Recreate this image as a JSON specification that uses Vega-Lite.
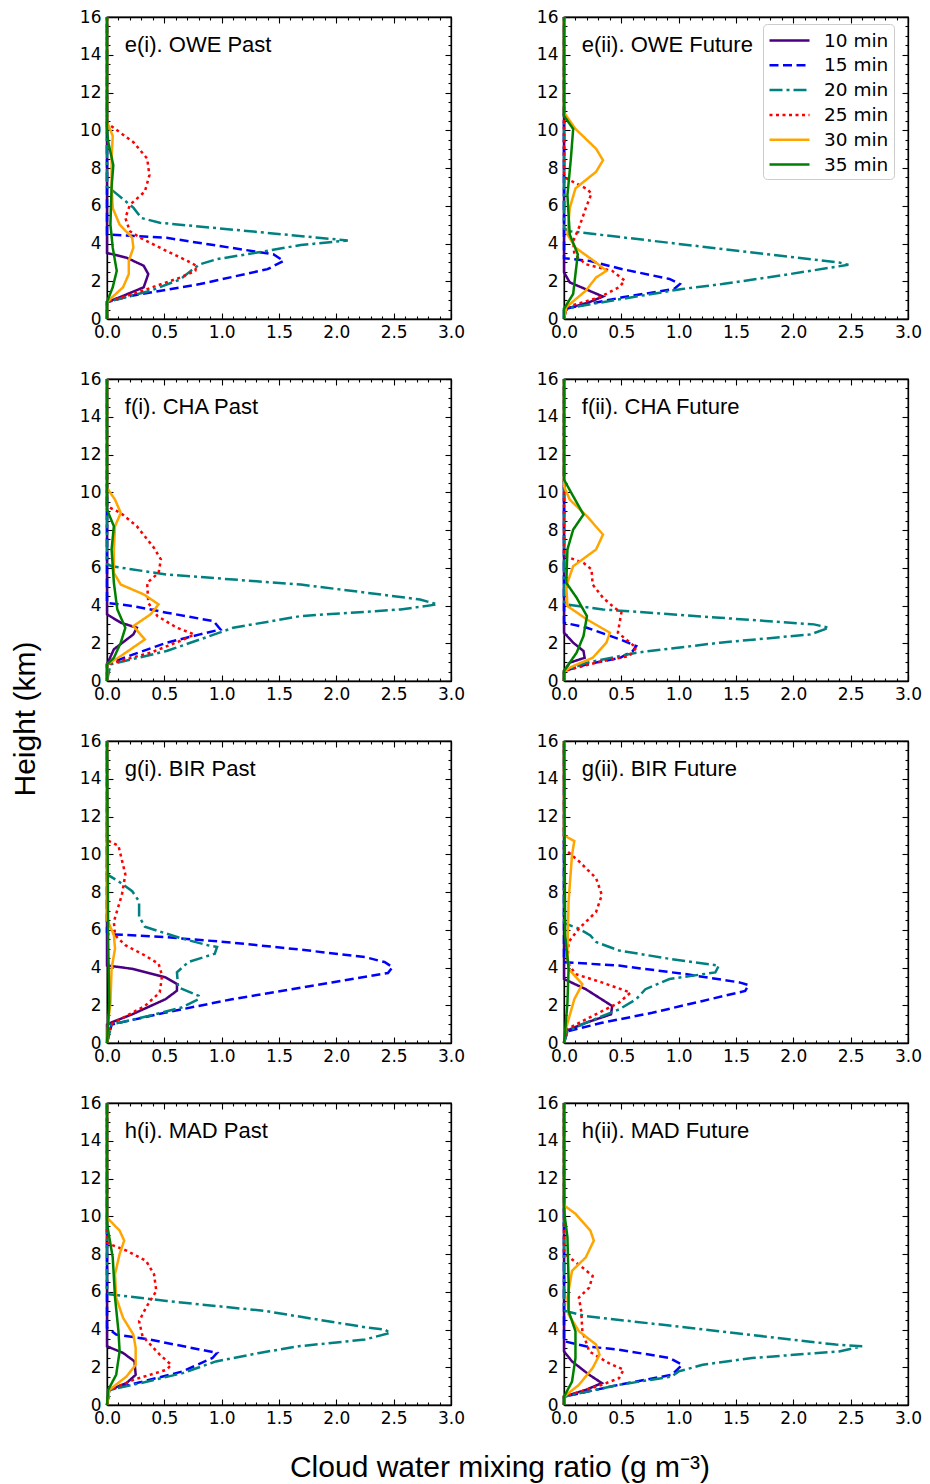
{
"$schema": "https://vega.github.io/schema/vega-lite/v6.json",
"padding": {"left": 10, "top": 7, "right": 5, "bottom": 5},
"background": "white",
"config": {
  "view": {"stroke": "black", "strokeWidth": 1.3},
  "axis": {"domainColor": "black", "domainWidth": 1.3, "tickColor": "black", "tickWidth": 1.1, "labelColor": "black", "labelFont": "DejaVu Sans", "labelFontSize": 17, "grid": false, "title": null, "labelFlush": false, "labelOverlap": false},
  "legend": {"symbolType": "M-2,0L2,0", "symbolSize": 400, "symbolOffset": 10, "symbolStrokeWidth": 2.5, "labelFont": "DejaVu Sans", "labelFontSize": 18.5, "labelColor": "black", "padding": 5, "strokeColor": "#cccccc", "fillColor": "white", "cornerRadius": 4, "rowPadding": 3.8, "labelOffset": 23}
},
"data": {"values": [
{"s":"OWE","p":"Past","t":"10 min","h":16,"x":0,"label":"e(i). OWE Past"},{"s":"OWE","p":"Past","t":"10 min","h":3.5,"x":0},{"s":"OWE","p":"Past","t":"10 min","h":3.25,"x":0.17},{"s":"OWE","p":"Past","t":"10 min","h":2.82,"x":0.32},{"s":"OWE","p":"Past","t":"10 min","h":2.38,"x":0.36},{"s":"OWE","p":"Past","t":"10 min","h":1.68,"x":0.32},{"s":"OWE","p":"Past","t":"10 min","h":1.15,"x":0.11},{"s":"OWE","p":"Past","t":"10 min","h":0.9,"x":0},{"s":"OWE","p":"Past","t":"10 min","h":0,"x":0},
{"s":"OWE","p":"Past","t":"15 min","h":16,"x":0},{"s":"OWE","p":"Past","t":"15 min","h":4.48,"x":0},{"s":"OWE","p":"Past","t":"15 min","h":4.3,"x":0.52},{"s":"OWE","p":"Past","t":"15 min","h":3.43,"x":1.45},{"s":"OWE","p":"Past","t":"15 min","h":3.08,"x":1.54},{"s":"OWE","p":"Past","t":"15 min","h":2.64,"x":1.4},{"s":"OWE","p":"Past","t":"15 min","h":1.85,"x":0.81},{"s":"OWE","p":"Past","t":"15 min","h":1.25,"x":0.23},{"s":"OWE","p":"Past","t":"15 min","h":0.9,"x":0},{"s":"OWE","p":"Past","t":"15 min","h":0,"x":0},
{"s":"OWE","p":"Past","t":"20 min","h":16,"x":0},{"s":"OWE","p":"Past","t":"20 min","h":7.0,"x":0},{"s":"OWE","p":"Past","t":"20 min","h":6.8,"x":0.05},{"s":"OWE","p":"Past","t":"20 min","h":5.9,"x":0.23},{"s":"OWE","p":"Past","t":"20 min","h":5.35,"x":0.3},{"s":"OWE","p":"Past","t":"20 min","h":5.1,"x":0.46},{"s":"OWE","p":"Past","t":"20 min","h":4.16,"x":2.1},{"s":"OWE","p":"Past","t":"20 min","h":3.92,"x":1.69},{"s":"OWE","p":"Past","t":"20 min","h":3.52,"x":1.31},{"s":"OWE","p":"Past","t":"20 min","h":3.17,"x":0.96},{"s":"OWE","p":"Past","t":"20 min","h":2.9,"x":0.81},{"s":"OWE","p":"Past","t":"20 min","h":2.55,"x":0.73},{"s":"OWE","p":"Past","t":"20 min","h":2.1,"x":0.64},{"s":"OWE","p":"Past","t":"20 min","h":1.5,"x":0.38},{"s":"OWE","p":"Past","t":"20 min","h":0.9,"x":0},{"s":"OWE","p":"Past","t":"20 min","h":0,"x":0},
{"s":"OWE","p":"Past","t":"25 min","h":16,"x":0},{"s":"OWE","p":"Past","t":"25 min","h":10.4,"x":0},{"s":"OWE","p":"Past","t":"25 min","h":10.25,"x":0.03},{"s":"OWE","p":"Past","t":"25 min","h":9.37,"x":0.23},{"s":"OWE","p":"Past","t":"25 min","h":8.5,"x":0.35},{"s":"OWE","p":"Past","t":"25 min","h":7.62,"x":0.37},{"s":"OWE","p":"Past","t":"25 min","h":6.75,"x":0.33},{"s":"OWE","p":"Past","t":"25 min","h":6.05,"x":0.2},{"s":"OWE","p":"Past","t":"25 min","h":5.35,"x":0.16},{"s":"OWE","p":"Past","t":"25 min","h":4.65,"x":0.2},{"s":"OWE","p":"Past","t":"25 min","h":4.3,"x":0.29},{"s":"OWE","p":"Past","t":"25 min","h":3.6,"x":0.52},{"s":"OWE","p":"Past","t":"25 min","h":3.08,"x":0.7},{"s":"OWE","p":"Past","t":"25 min","h":2.82,"x":0.78},{"s":"OWE","p":"Past","t":"25 min","h":2.55,"x":0.77},{"s":"OWE","p":"Past","t":"25 min","h":2.2,"x":0.64},{"s":"OWE","p":"Past","t":"25 min","h":1.33,"x":0.23},{"s":"OWE","p":"Past","t":"25 min","h":0.9,"x":0},{"s":"OWE","p":"Past","t":"25 min","h":0,"x":0},
{"s":"OWE","p":"Past","t":"30 min","h":16,"x":0},{"s":"OWE","p":"Past","t":"30 min","h":10.4,"x":0},{"s":"OWE","p":"Past","t":"30 min","h":10.3,"x":0.01},{"s":"OWE","p":"Past","t":"30 min","h":9.7,"x":0.05},{"s":"OWE","p":"Past","t":"30 min","h":8.5,"x":0.04},{"s":"OWE","p":"Past","t":"30 min","h":7.1,"x":0.04},{"s":"OWE","p":"Past","t":"30 min","h":5.88,"x":0.05},{"s":"OWE","p":"Past","t":"30 min","h":5.0,"x":0.11},{"s":"OWE","p":"Past","t":"30 min","h":4.3,"x":0.22},{"s":"OWE","p":"Past","t":"30 min","h":3.78,"x":0.23},{"s":"OWE","p":"Past","t":"30 min","h":3.08,"x":0.19},{"s":"OWE","p":"Past","t":"30 min","h":2.38,"x":0.19},{"s":"OWE","p":"Past","t":"30 min","h":1.68,"x":0.14},{"s":"OWE","p":"Past","t":"30 min","h":0.9,"x":0},{"s":"OWE","p":"Past","t":"30 min","h":0,"x":0},
{"s":"OWE","p":"Past","t":"35 min","h":16,"x":0},{"s":"OWE","p":"Past","t":"35 min","h":10,"x":0},{"s":"OWE","p":"Past","t":"35 min","h":9.4,"x":0.01},{"s":"OWE","p":"Past","t":"35 min","h":8.15,"x":0.055},{"s":"OWE","p":"Past","t":"35 min","h":7.0,"x":0.04},{"s":"OWE","p":"Past","t":"35 min","h":5.0,"x":0.03},{"s":"OWE","p":"Past","t":"35 min","h":3.78,"x":0.05},{"s":"OWE","p":"Past","t":"35 min","h":2.55,"x":0.085},{"s":"OWE","p":"Past","t":"35 min","h":1.68,"x":0.05},{"s":"OWE","p":"Past","t":"35 min","h":0.9,"x":0},{"s":"OWE","p":"Past","t":"35 min","h":0,"x":0},

{"s":"OWE","p":"Future","t":"10 min","h":16,"x":0,"label":"e(ii). OWE Future"},{"s":"OWE","p":"Future","t":"10 min","h":2.47,"x":0},{"s":"OWE","p":"Future","t":"10 min","h":1.94,"x":0.05},{"s":"OWE","p":"Future","t":"10 min","h":1.5,"x":0.22},{"s":"OWE","p":"Future","t":"10 min","h":1.19,"x":0.34},{"s":"OWE","p":"Future","t":"10 min","h":0.89,"x":0.22},{"s":"OWE","p":"Future","t":"10 min","h":0.54,"x":0.02},{"s":"OWE","p":"Future","t":"10 min","h":0,"x":0},
{"s":"OWE","p":"Future","t":"15 min","h":16,"x":0},{"s":"OWE","p":"Future","t":"15 min","h":3.22,"x":0},{"s":"OWE","p":"Future","t":"15 min","h":3.08,"x":0.22},{"s":"OWE","p":"Future","t":"15 min","h":2.64,"x":0.51},{"s":"OWE","p":"Future","t":"15 min","h":2.12,"x":0.92},{"s":"OWE","p":"Future","t":"15 min","h":1.85,"x":1.01},{"s":"OWE","p":"Future","t":"15 min","h":1.59,"x":0.96},{"s":"OWE","p":"Future","t":"15 min","h":1.15,"x":0.51},{"s":"OWE","p":"Future","t":"15 min","h":0.54,"x":0},{"s":"OWE","p":"Future","t":"15 min","h":0,"x":0},
{"s":"OWE","p":"Future","t":"20 min","h":16,"x":0},{"s":"OWE","p":"Future","t":"20 min","h":4.8,"x":0},{"s":"OWE","p":"Future","t":"20 min","h":4.65,"x":0.05},{"s":"OWE","p":"Future","t":"20 min","h":2.99,"x":2.4},{"s":"OWE","p":"Future","t":"20 min","h":2.87,"x":2.48},{"s":"OWE","p":"Future","t":"20 min","h":2.38,"x":1.97},{"s":"OWE","p":"Future","t":"20 min","h":1.85,"x":1.38},{"s":"OWE","p":"Future","t":"20 min","h":1.59,"x":1.03},{"s":"OWE","p":"Future","t":"20 min","h":1.07,"x":0.51},{"s":"OWE","p":"Future","t":"20 min","h":0.54,"x":0},{"s":"OWE","p":"Future","t":"20 min","h":0,"x":0},
{"s":"OWE","p":"Future","t":"25 min","h":16,"x":0},{"s":"OWE","p":"Future","t":"25 min","h":7.6,"x":0},{"s":"OWE","p":"Future","t":"25 min","h":7.45,"x":0.02},{"s":"OWE","p":"Future","t":"25 min","h":6.92,"x":0.19},{"s":"OWE","p":"Future","t":"25 min","h":6.66,"x":0.24},{"s":"OWE","p":"Future","t":"25 min","h":5.87,"x":0.19},{"s":"OWE","p":"Future","t":"25 min","h":4.83,"x":0.13},{"s":"OWE","p":"Future","t":"25 min","h":4.13,"x":0.08},{"s":"OWE","p":"Future","t":"25 min","h":3.43,"x":0.09},{"s":"OWE","p":"Future","t":"25 min","h":2.9,"x":0.19},{"s":"OWE","p":"Future","t":"25 min","h":2.55,"x":0.42},{"s":"OWE","p":"Future","t":"25 min","h":2.03,"x":0.53},{"s":"OWE","p":"Future","t":"25 min","h":1.68,"x":0.48},{"s":"OWE","p":"Future","t":"25 min","h":1.15,"x":0.31},{"s":"OWE","p":"Future","t":"25 min","h":0.63,"x":0.02},{"s":"OWE","p":"Future","t":"25 min","h":0,"x":0},
{"s":"OWE","p":"Future","t":"30 min","h":16,"x":0},{"s":"OWE","p":"Future","t":"30 min","h":10.94,"x":0},{"s":"OWE","p":"Future","t":"30 min","h":10.07,"x":0.1},{"s":"OWE","p":"Future","t":"30 min","h":9.02,"x":0.28},{"s":"OWE","p":"Future","t":"30 min","h":8.41,"x":0.34},{"s":"OWE","p":"Future","t":"30 min","h":7.8,"x":0.28},{"s":"OWE","p":"Future","t":"30 min","h":6.92,"x":0.1},{"s":"OWE","p":"Future","t":"30 min","h":5.87,"x":0.05},{"s":"OWE","p":"Future","t":"30 min","h":4.48,"x":0.03},{"s":"OWE","p":"Future","t":"30 min","h":3.78,"x":0.1},{"s":"OWE","p":"Future","t":"30 min","h":2.99,"x":0.28},{"s":"OWE","p":"Future","t":"30 min","h":2.55,"x":0.37},{"s":"OWE","p":"Future","t":"30 min","h":2.2,"x":0.28},{"s":"OWE","p":"Future","t":"30 min","h":1.5,"x":0.19},{"s":"OWE","p":"Future","t":"30 min","h":0.63,"x":0.02},{"s":"OWE","p":"Future","t":"30 min","h":0,"x":0},
{"s":"OWE","p":"Future","t":"35 min","h":16,"x":0},{"s":"OWE","p":"Future","t":"35 min","h":10.77,"x":0},{"s":"OWE","p":"Future","t":"35 min","h":10.07,"x":0.08},{"s":"OWE","p":"Future","t":"35 min","h":8.5,"x":0.06},{"s":"OWE","p":"Future","t":"35 min","h":6.57,"x":0.03},{"s":"OWE","p":"Future","t":"35 min","h":4.48,"x":0.05},{"s":"OWE","p":"Future","t":"35 min","h":3.43,"x":0.12},{"s":"OWE","p":"Future","t":"35 min","h":2.38,"x":0.1},{"s":"OWE","p":"Future","t":"35 min","h":1.33,"x":0.08},{"s":"OWE","p":"Future","t":"35 min","h":0.54,"x":0},{"s":"OWE","p":"Future","t":"35 min","h":0,"x":0},

{"s":"CHA","p":"Past","t":"10 min","h":16,"x":0,"label":"f(i). CHA Past"},{"s":"CHA","p":"Past","t":"10 min","h":3.53,"x":0},{"s":"CHA","p":"Past","t":"10 min","h":3.09,"x":0.12},{"s":"CHA","p":"Past","t":"10 min","h":2.82,"x":0.26},{"s":"CHA","p":"Past","t":"10 min","h":2.47,"x":0.23},{"s":"CHA","p":"Past","t":"10 min","h":1.68,"x":0.06},{"s":"CHA","p":"Past","t":"10 min","h":0.88,"x":0},{"s":"CHA","p":"Past","t":"10 min","h":0,"x":0},
{"s":"CHA","p":"Past","t":"15 min","h":16,"x":0},{"s":"CHA","p":"Past","t":"15 min","h":4.14,"x":0},{"s":"CHA","p":"Past","t":"15 min","h":3.97,"x":0.23},{"s":"CHA","p":"Past","t":"15 min","h":3.62,"x":0.52},{"s":"CHA","p":"Past","t":"15 min","h":3.17,"x":0.93},{"s":"CHA","p":"Past","t":"15 min","h":2.73,"x":0.99},{"s":"CHA","p":"Past","t":"15 min","h":2.47,"x":0.81},{"s":"CHA","p":"Past","t":"15 min","h":2.03,"x":0.52},{"s":"CHA","p":"Past","t":"15 min","h":1.41,"x":0.23},{"s":"CHA","p":"Past","t":"15 min","h":0.88,"x":0},{"s":"CHA","p":"Past","t":"15 min","h":0,"x":0},
{"s":"CHA","p":"Past","t":"20 min","h":16,"x":0},{"s":"CHA","p":"Past","t":"20 min","h":6.2,"x":0},{"s":"CHA","p":"Past","t":"20 min","h":6.08,"x":0.04},{"s":"CHA","p":"Past","t":"20 min","h":5.64,"x":0.52},{"s":"CHA","p":"Past","t":"20 min","h":5.11,"x":1.69},{"s":"CHA","p":"Past","t":"20 min","h":4.32,"x":2.73},{"s":"CHA","p":"Past","t":"20 min","h":4.06,"x":2.88},{"s":"CHA","p":"Past","t":"20 min","h":3.79,"x":2.56},{"s":"CHA","p":"Past","t":"20 min","h":3.44,"x":1.69},{"s":"CHA","p":"Past","t":"20 min","h":2.82,"x":1.1},{"s":"CHA","p":"Past","t":"20 min","h":2.2,"x":0.81},{"s":"CHA","p":"Past","t":"20 min","h":1.59,"x":0.52},{"s":"CHA","p":"Past","t":"20 min","h":0.88,"x":0.03},{"s":"CHA","p":"Past","t":"20 min","h":0,"x":0},
{"s":"CHA","p":"Past","t":"25 min","h":16,"x":0},{"s":"CHA","p":"Past","t":"25 min","h":9.3,"x":0},{"s":"CHA","p":"Past","t":"25 min","h":9.17,"x":0.03},{"s":"CHA","p":"Past","t":"25 min","h":8.9,"x":0.12},{"s":"CHA","p":"Past","t":"25 min","h":8.2,"x":0.26},{"s":"CHA","p":"Past","t":"25 min","h":7.05,"x":0.41},{"s":"CHA","p":"Past","t":"25 min","h":6.44,"x":0.47},{"s":"CHA","p":"Past","t":"25 min","h":5.73,"x":0.45},{"s":"CHA","p":"Past","t":"25 min","h":5.2,"x":0.35},{"s":"CHA","p":"Past","t":"25 min","h":4.14,"x":0.36},{"s":"CHA","p":"Past","t":"25 min","h":3.44,"x":0.44},{"s":"CHA","p":"Past","t":"25 min","h":2.82,"x":0.61},{"s":"CHA","p":"Past","t":"25 min","h":2.47,"x":0.76},{"s":"CHA","p":"Past","t":"25 min","h":2.2,"x":0.67},{"s":"CHA","p":"Past","t":"25 min","h":1.5,"x":0.38},{"s":"CHA","p":"Past","t":"25 min","h":0.88,"x":0},{"s":"CHA","p":"Past","t":"25 min","h":0,"x":0},
{"s":"CHA","p":"Past","t":"30 min","h":16,"x":0},{"s":"CHA","p":"Past","t":"30 min","h":10.2,"x":0},{"s":"CHA","p":"Past","t":"30 min","h":10.14,"x":0.01},{"s":"CHA","p":"Past","t":"30 min","h":9.61,"x":0.07},{"s":"CHA","p":"Past","t":"30 min","h":8.9,"x":0.12},{"s":"CHA","p":"Past","t":"30 min","h":8.2,"x":0.07},{"s":"CHA","p":"Past","t":"30 min","h":6.97,"x":0.06},{"s":"CHA","p":"Past","t":"30 min","h":5.73,"x":0.06},{"s":"CHA","p":"Past","t":"30 min","h":5.11,"x":0.12},{"s":"CHA","p":"Past","t":"30 min","h":4.59,"x":0.32},{"s":"CHA","p":"Past","t":"30 min","h":4.06,"x":0.45},{"s":"CHA","p":"Past","t":"30 min","h":3.53,"x":0.38},{"s":"CHA","p":"Past","t":"30 min","h":2.91,"x":0.23},{"s":"CHA","p":"Past","t":"30 min","h":2.2,"x":0.33},{"s":"CHA","p":"Past","t":"30 min","h":1.32,"x":0.12},{"s":"CHA","p":"Past","t":"30 min","h":0.88,"x":0},{"s":"CHA","p":"Past","t":"30 min","h":0,"x":0},
{"s":"CHA","p":"Past","t":"35 min","h":16,"x":0},{"s":"CHA","p":"Past","t":"35 min","h":9.08,"x":0},{"s":"CHA","p":"Past","t":"35 min","h":8.2,"x":0.06},{"s":"CHA","p":"Past","t":"35 min","h":6.97,"x":0.04},{"s":"CHA","p":"Past","t":"35 min","h":5.2,"x":0.06},{"s":"CHA","p":"Past","t":"35 min","h":3.79,"x":0.09},{"s":"CHA","p":"Past","t":"35 min","h":2.82,"x":0.16},{"s":"CHA","p":"Past","t":"35 min","h":2.03,"x":0.12},{"s":"CHA","p":"Past","t":"35 min","h":1.23,"x":0.06},{"s":"CHA","p":"Past","t":"35 min","h":0.88,"x":0},{"s":"CHA","p":"Past","t":"35 min","h":0,"x":0},

{"s":"CHA","p":"Future","t":"10 min","h":16,"x":0,"label":"f(ii). CHA Future"},{"s":"CHA","p":"Future","t":"10 min","h":2.56,"x":0},{"s":"CHA","p":"Future","t":"10 min","h":2.03,"x":0.08},{"s":"CHA","p":"Future","t":"10 min","h":1.59,"x":0.17},{"s":"CHA","p":"Future","t":"10 min","h":1.23,"x":0.18},{"s":"CHA","p":"Future","t":"10 min","h":0.97,"x":0.05},{"s":"CHA","p":"Future","t":"10 min","h":0.53,"x":0},{"s":"CHA","p":"Future","t":"10 min","h":0,"x":0},
{"s":"CHA","p":"Future","t":"15 min","h":16,"x":0},{"s":"CHA","p":"Future","t":"15 min","h":3.09,"x":0},{"s":"CHA","p":"Future","t":"15 min","h":2.82,"x":0.2},{"s":"CHA","p":"Future","t":"15 min","h":2.2,"x":0.49},{"s":"CHA","p":"Future","t":"15 min","h":1.85,"x":0.63},{"s":"CHA","p":"Future","t":"15 min","h":1.59,"x":0.6},{"s":"CHA","p":"Future","t":"15 min","h":1.23,"x":0.49},{"s":"CHA","p":"Future","t":"15 min","h":0.88,"x":0.2},{"s":"CHA","p":"Future","t":"15 min","h":0.53,"x":0},{"s":"CHA","p":"Future","t":"15 min","h":0,"x":0},
{"s":"CHA","p":"Future","t":"20 min","h":16,"x":0},{"s":"CHA","p":"Future","t":"20 min","h":4.2,"x":0},{"s":"CHA","p":"Future","t":"20 min","h":4.06,"x":0.02},{"s":"CHA","p":"Future","t":"20 min","h":3.79,"x":0.34},{"s":"CHA","p":"Future","t":"20 min","h":3.35,"x":1.36},{"s":"CHA","p":"Future","t":"20 min","h":3.0,"x":2.18},{"s":"CHA","p":"Future","t":"20 min","h":2.82,"x":2.31},{"s":"CHA","p":"Future","t":"20 min","h":2.47,"x":2.15},{"s":"CHA","p":"Future","t":"20 min","h":2.03,"x":1.36},{"s":"CHA","p":"Future","t":"20 min","h":1.5,"x":0.63},{"s":"CHA","p":"Future","t":"20 min","h":0.97,"x":0.2},{"s":"CHA","p":"Future","t":"20 min","h":0.53,"x":0},{"s":"CHA","p":"Future","t":"20 min","h":0,"x":0},
{"s":"CHA","p":"Future","t":"25 min","h":16,"x":0},{"s":"CHA","p":"Future","t":"25 min","h":6.7,"x":0},{"s":"CHA","p":"Future","t":"25 min","h":6.61,"x":0.01},{"s":"CHA","p":"Future","t":"25 min","h":6.26,"x":0.17},{"s":"CHA","p":"Future","t":"25 min","h":5.91,"x":0.24},{"s":"CHA","p":"Future","t":"25 min","h":5.11,"x":0.25},{"s":"CHA","p":"Future","t":"25 min","h":4.41,"x":0.34},{"s":"CHA","p":"Future","t":"25 min","h":3.88,"x":0.44},{"s":"CHA","p":"Future","t":"25 min","h":3.62,"x":0.5},{"s":"CHA","p":"Future","t":"25 min","h":2.56,"x":0.47},{"s":"CHA","p":"Future","t":"25 min","h":1.76,"x":0.63},{"s":"CHA","p":"Future","t":"25 min","h":1.32,"x":0.57},{"s":"CHA","p":"Future","t":"25 min","h":1.06,"x":0.34},{"s":"CHA","p":"Future","t":"25 min","h":0.53,"x":0},{"s":"CHA","p":"Future","t":"25 min","h":0,"x":0},
{"s":"CHA","p":"Future","t":"30 min","h":16,"x":0},{"s":"CHA","p":"Future","t":"30 min","h":10.32,"x":0},{"s":"CHA","p":"Future","t":"30 min","h":9.61,"x":0.05},{"s":"CHA","p":"Future","t":"30 min","h":8.73,"x":0.2},{"s":"CHA","p":"Future","t":"30 min","h":7.76,"x":0.34},{"s":"CHA","p":"Future","t":"30 min","h":6.97,"x":0.28},{"s":"CHA","p":"Future","t":"30 min","h":6.08,"x":0.08},{"s":"CHA","p":"Future","t":"30 min","h":5.03,"x":0.02},{"s":"CHA","p":"Future","t":"30 min","h":3.97,"x":0.03},{"s":"CHA","p":"Future","t":"30 min","h":3.26,"x":0.2},{"s":"CHA","p":"Future","t":"30 min","h":2.56,"x":0.4},{"s":"CHA","p":"Future","t":"30 min","h":2.03,"x":0.37},{"s":"CHA","p":"Future","t":"30 min","h":1.23,"x":0.25},{"s":"CHA","p":"Future","t":"30 min","h":0.79,"x":0.08},{"s":"CHA","p":"Future","t":"30 min","h":0.53,"x":0},{"s":"CHA","p":"Future","t":"30 min","h":0,"x":0},
{"s":"CHA","p":"Future","t":"35 min","h":16,"x":0},{"s":"CHA","p":"Future","t":"35 min","h":10.67,"x":0},{"s":"CHA","p":"Future","t":"35 min","h":9.79,"x":0.08},{"s":"CHA","p":"Future","t":"35 min","h":8.82,"x":0.17},{"s":"CHA","p":"Future","t":"35 min","h":8.02,"x":0.08},{"s":"CHA","p":"Future","t":"35 min","h":6.97,"x":0.03},{"s":"CHA","p":"Future","t":"35 min","h":5.2,"x":0.02},{"s":"CHA","p":"Future","t":"35 min","h":4.41,"x":0.11},{"s":"CHA","p":"Future","t":"35 min","h":3.44,"x":0.2},{"s":"CHA","p":"Future","t":"35 min","h":2.38,"x":0.17},{"s":"CHA","p":"Future","t":"35 min","h":1.5,"x":0.11},{"s":"CHA","p":"Future","t":"35 min","h":0.53,"x":0},{"s":"CHA","p":"Future","t":"35 min","h":0,"x":0},

{"s":"BIR","p":"Past","t":"10 min","h":16,"x":0,"label":"g(i). BIR Past"},{"s":"BIR","p":"Past","t":"10 min","h":4.11,"x":0},{"s":"BIR","p":"Past","t":"10 min","h":3.93,"x":0.22},{"s":"BIR","p":"Past","t":"10 min","h":3.48,"x":0.51},{"s":"BIR","p":"Past","t":"10 min","h":3.13,"x":0.61},{"s":"BIR","p":"Past","t":"10 min","h":2.77,"x":0.61},{"s":"BIR","p":"Past","t":"10 min","h":2.32,"x":0.51},{"s":"BIR","p":"Past","t":"10 min","h":1.52,"x":0.22},{"s":"BIR","p":"Past","t":"10 min","h":1.07,"x":0.03},{"s":"BIR","p":"Past","t":"10 min","h":0.98,"x":0},{"s":"BIR","p":"Past","t":"10 min","h":0,"x":0},
{"s":"BIR","p":"Past","t":"15 min","h":16,"x":0},{"s":"BIR","p":"Past","t":"15 min","h":5.85,"x":0},{"s":"BIR","p":"Past","t":"15 min","h":5.77,"x":0.01},{"s":"BIR","p":"Past","t":"15 min","h":5.61,"x":0.51},{"s":"BIR","p":"Past","t":"15 min","h":5.32,"x":1.09},{"s":"BIR","p":"Past","t":"15 min","h":4.96,"x":1.67},{"s":"BIR","p":"Past","t":"15 min","h":4.55,"x":2.25},{"s":"BIR","p":"Past","t":"15 min","h":4.29,"x":2.42},{"s":"BIR","p":"Past","t":"15 min","h":4.02,"x":2.49},{"s":"BIR","p":"Past","t":"15 min","h":3.71,"x":2.45},{"s":"BIR","p":"Past","t":"15 min","h":3.21,"x":1.96},{"s":"BIR","p":"Past","t":"15 min","h":2.32,"x":1.09},{"s":"BIR","p":"Past","t":"15 min","h":1.61,"x":0.51},{"s":"BIR","p":"Past","t":"15 min","h":0.98,"x":0.04},{"s":"BIR","p":"Past","t":"15 min","h":0,"x":0},
{"s":"BIR","p":"Past","t":"20 min","h":16,"x":0},{"s":"BIR","p":"Past","t":"20 min","h":8.93,"x":0},{"s":"BIR","p":"Past","t":"20 min","h":8.57,"x":0.1},{"s":"BIR","p":"Past","t":"20 min","h":8.04,"x":0.22},{"s":"BIR","p":"Past","t":"20 min","h":7.5,"x":0.28},{"s":"BIR","p":"Past","t":"20 min","h":6.7,"x":0.28},{"s":"BIR","p":"Past","t":"20 min","h":6.16,"x":0.33},{"s":"BIR","p":"Past","t":"20 min","h":5.54,"x":0.65},{"s":"BIR","p":"Past","t":"20 min","h":5.18,"x":0.88},{"s":"BIR","p":"Past","t":"20 min","h":5.09,"x":0.96},{"s":"BIR","p":"Past","t":"20 min","h":4.73,"x":0.94},{"s":"BIR","p":"Past","t":"20 min","h":4.29,"x":0.71},{"s":"BIR","p":"Past","t":"20 min","h":3.75,"x":0.61},{"s":"BIR","p":"Past","t":"20 min","h":2.95,"x":0.62},{"s":"BIR","p":"Past","t":"20 min","h":2.5,"x":0.8},{"s":"BIR","p":"Past","t":"20 min","h":2.32,"x":0.8},{"s":"BIR","p":"Past","t":"20 min","h":1.88,"x":0.65},{"s":"BIR","p":"Past","t":"20 min","h":1.43,"x":0.36},{"s":"BIR","p":"Past","t":"20 min","h":0.98,"x":0.04},{"s":"BIR","p":"Past","t":"20 min","h":0,"x":0},
{"s":"BIR","p":"Past","t":"25 min","h":16,"x":0},{"s":"BIR","p":"Past","t":"25 min","h":10.8,"x":0},{"s":"BIR","p":"Past","t":"25 min","h":10.72,"x":0.01},{"s":"BIR","p":"Past","t":"25 min","h":10.45,"x":0.1},{"s":"BIR","p":"Past","t":"25 min","h":8.93,"x":0.16},{"s":"BIR","p":"Past","t":"25 min","h":7.86,"x":0.13},{"s":"BIR","p":"Past","t":"25 min","h":6.43,"x":0.06},{"s":"BIR","p":"Past","t":"25 min","h":5.71,"x":0.07},{"s":"BIR","p":"Past","t":"25 min","h":5.18,"x":0.16},{"s":"BIR","p":"Past","t":"25 min","h":4.64,"x":0.33},{"s":"BIR","p":"Past","t":"25 min","h":4.2,"x":0.45},{"s":"BIR","p":"Past","t":"25 min","h":3.57,"x":0.48},{"s":"BIR","p":"Past","t":"25 min","h":2.68,"x":0.46},{"s":"BIR","p":"Past","t":"25 min","h":1.96,"x":0.33},{"s":"BIR","p":"Past","t":"25 min","h":0.98,"x":0.03},{"s":"BIR","p":"Past","t":"25 min","h":0,"x":0},
{"s":"BIR","p":"Past","t":"30 min","h":16,"x":0},{"s":"BIR","p":"Past","t":"30 min","h":6.5,"x":0},{"s":"BIR","p":"Past","t":"30 min","h":6.43,"x":0.01},{"s":"BIR","p":"Past","t":"30 min","h":5.71,"x":0.06},{"s":"BIR","p":"Past","t":"30 min","h":5.0,"x":0.07},{"s":"BIR","p":"Past","t":"30 min","h":3.93,"x":0.04},{"s":"BIR","p":"Past","t":"30 min","h":2.14,"x":0.03},{"s":"BIR","p":"Past","t":"30 min","h":1.07,"x":0.01},{"s":"BIR","p":"Past","t":"30 min","h":0,"x":0},
{"s":"BIR","p":"Past","t":"35 min","h":16,"x":0},{"s":"BIR","p":"Past","t":"35 min","h":5.36,"x":0.01},{"s":"BIR","p":"Past","t":"35 min","h":2.14,"x":0.02},{"s":"BIR","p":"Past","t":"35 min","h":1.0,"x":0.01},{"s":"BIR","p":"Past","t":"35 min","h":0,"x":0},

{"s":"BIR","p":"Future","t":"10 min","h":16,"x":0,"label":"g(ii). BIR Future"},{"s":"BIR","p":"Future","t":"10 min","h":3.39,"x":0},{"s":"BIR","p":"Future","t":"10 min","h":2.85,"x":0.19},{"s":"BIR","p":"Future","t":"10 min","h":1.96,"x":0.42},{"s":"BIR","p":"Future","t":"10 min","h":1.52,"x":0.41},{"s":"BIR","p":"Future","t":"10 min","h":1.07,"x":0.19},{"s":"BIR","p":"Future","t":"10 min","h":0.62,"x":0.01},{"s":"BIR","p":"Future","t":"10 min","h":0,"x":0},
{"s":"BIR","p":"Future","t":"15 min","h":16,"x":0},{"s":"BIR","p":"Future","t":"15 min","h":4.35,"x":0},{"s":"BIR","p":"Future","t":"15 min","h":4.28,"x":0.01},{"s":"BIR","p":"Future","t":"15 min","h":4.1,"x":0.48},{"s":"BIR","p":"Future","t":"15 min","h":3.65,"x":1.06},{"s":"BIR","p":"Future","t":"15 min","h":3.21,"x":1.53},{"s":"BIR","p":"Future","t":"15 min","h":3.07,"x":1.61},{"s":"BIR","p":"Future","t":"15 min","h":2.76,"x":1.58},{"s":"BIR","p":"Future","t":"15 min","h":2.23,"x":1.21},{"s":"BIR","p":"Future","t":"15 min","h":1.6,"x":0.77},{"s":"BIR","p":"Future","t":"15 min","h":1.07,"x":0.33},{"s":"BIR","p":"Future","t":"15 min","h":0.62,"x":0.03},{"s":"BIR","p":"Future","t":"15 min","h":0,"x":0},
{"s":"BIR","p":"Future","t":"20 min","h":16,"x":0},{"s":"BIR","p":"Future","t":"20 min","h":6.4,"x":0},{"s":"BIR","p":"Future","t":"20 min","h":6.33,"x":0.01},{"s":"BIR","p":"Future","t":"20 min","h":6.06,"x":0.13},{"s":"BIR","p":"Future","t":"20 min","h":5.7,"x":0.23},{"s":"BIR","p":"Future","t":"20 min","h":5.35,"x":0.28},{"s":"BIR","p":"Future","t":"20 min","h":4.9,"x":0.48},{"s":"BIR","p":"Future","t":"20 min","h":4.46,"x":0.92},{"s":"BIR","p":"Future","t":"20 min","h":4.1,"x":1.35},{"s":"BIR","p":"Future","t":"20 min","h":3.74,"x":1.32},{"s":"BIR","p":"Future","t":"20 min","h":3.39,"x":0.92},{"s":"BIR","p":"Future","t":"20 min","h":2.85,"x":0.71},{"s":"BIR","p":"Future","t":"20 min","h":2.32,"x":0.63},{"s":"BIR","p":"Future","t":"20 min","h":1.78,"x":0.48},{"s":"BIR","p":"Future","t":"20 min","h":1.07,"x":0.19},{"s":"BIR","p":"Future","t":"20 min","h":0.62,"x":0.03},{"s":"BIR","p":"Future","t":"20 min","h":0,"x":0},
{"s":"BIR","p":"Future","t":"25 min","h":16,"x":0},{"s":"BIR","p":"Future","t":"25 min","h":10.3,"x":0},{"s":"BIR","p":"Future","t":"25 min","h":10.25,"x":0.01},{"s":"BIR","p":"Future","t":"25 min","h":9.63,"x":0.13},{"s":"BIR","p":"Future","t":"25 min","h":8.73,"x":0.28},{"s":"BIR","p":"Future","t":"25 min","h":7.84,"x":0.33},{"s":"BIR","p":"Future","t":"25 min","h":6.95,"x":0.28},{"s":"BIR","p":"Future","t":"25 min","h":6.06,"x":0.13},{"s":"BIR","p":"Future","t":"25 min","h":5.35,"x":0.04},{"s":"BIR","p":"Future","t":"25 min","h":4.28,"x":0.03},{"s":"BIR","p":"Future","t":"25 min","h":3.65,"x":0.1},{"s":"BIR","p":"Future","t":"25 min","h":3.21,"x":0.33},{"s":"BIR","p":"Future","t":"25 min","h":2.67,"x":0.58},{"s":"BIR","p":"Future","t":"25 min","h":2.14,"x":0.48},{"s":"BIR","p":"Future","t":"25 min","h":1.25,"x":0.19},{"s":"BIR","p":"Future","t":"25 min","h":0.71,"x":0.02},{"s":"BIR","p":"Future","t":"25 min","h":0,"x":0},
{"s":"BIR","p":"Future","t":"30 min","h":16,"x":0},{"s":"BIR","p":"Future","t":"30 min","h":11.0,"x":0},{"s":"BIR","p":"Future","t":"30 min","h":10.96,"x":0.01},{"s":"BIR","p":"Future","t":"30 min","h":10.7,"x":0.09},{"s":"BIR","p":"Future","t":"30 min","h":9.98,"x":0.07},{"s":"BIR","p":"Future","t":"30 min","h":7.49,"x":0.04},{"s":"BIR","p":"Future","t":"30 min","h":4.81,"x":0.03},{"s":"BIR","p":"Future","t":"30 min","h":3.92,"x":0.04},{"s":"BIR","p":"Future","t":"30 min","h":3.12,"x":0.16},{"s":"BIR","p":"Future","t":"30 min","h":2.32,"x":0.09},{"s":"BIR","p":"Future","t":"30 min","h":1.25,"x":0.04},{"s":"BIR","p":"Future","t":"30 min","h":0.62,"x":0.01},{"s":"BIR","p":"Future","t":"30 min","h":0,"x":0},
{"s":"BIR","p":"Future","t":"35 min","h":16,"x":0},{"s":"BIR","p":"Future","t":"35 min","h":5.7,"x":0.01},{"s":"BIR","p":"Future","t":"35 min","h":3.92,"x":0.04},{"s":"BIR","p":"Future","t":"35 min","h":2.14,"x":0.03},{"s":"BIR","p":"Future","t":"35 min","h":0.62,"x":0.01},{"s":"BIR","p":"Future","t":"35 min","h":0,"x":0},

{"s":"MAD","p":"Past","t":"10 min","h":16,"x":0,"label":"h(i). MAD Past"},{"s":"MAD","p":"Past","t":"10 min","h":3.11,"x":0},{"s":"MAD","p":"Past","t":"10 min","h":2.76,"x":0.14},{"s":"MAD","p":"Past","t":"10 min","h":2.31,"x":0.24},{"s":"MAD","p":"Past","t":"10 min","h":1.6,"x":0.25},{"s":"MAD","p":"Past","t":"10 min","h":1.16,"x":0.17},{"s":"MAD","p":"Past","t":"10 min","h":0.8,"x":0.02},{"s":"MAD","p":"Past","t":"10 min","h":0,"x":0},
{"s":"MAD","p":"Past","t":"15 min","h":16,"x":0},{"s":"MAD","p":"Past","t":"15 min","h":4.09,"x":0},{"s":"MAD","p":"Past","t":"15 min","h":3.73,"x":0.08},{"s":"MAD","p":"Past","t":"15 min","h":3.47,"x":0.37},{"s":"MAD","p":"Past","t":"15 min","h":2.76,"x":0.96},{"s":"MAD","p":"Past","t":"15 min","h":2.49,"x":0.92},{"s":"MAD","p":"Past","t":"15 min","h":1.78,"x":0.66},{"s":"MAD","p":"Past","t":"15 min","h":1.24,"x":0.31},{"s":"MAD","p":"Past","t":"15 min","h":0.8,"x":0.02},{"s":"MAD","p":"Past","t":"15 min","h":0,"x":0},
{"s":"MAD","p":"Past","t":"20 min","h":16,"x":0},{"s":"MAD","p":"Past","t":"20 min","h":6.0,"x":0},{"s":"MAD","p":"Past","t":"20 min","h":5.87,"x":0.02},{"s":"MAD","p":"Past","t":"20 min","h":5.51,"x":0.52},{"s":"MAD","p":"Past","t":"20 min","h":4.98,"x":1.38},{"s":"MAD","p":"Past","t":"20 min","h":4.12,"x":2.25},{"s":"MAD","p":"Past","t":"20 min","h":4.0,"x":2.42},{"s":"MAD","p":"Past","t":"20 min","h":3.82,"x":2.47},{"s":"MAD","p":"Past","t":"20 min","h":3.47,"x":2.25},{"s":"MAD","p":"Past","t":"20 min","h":3.11,"x":1.67},{"s":"MAD","p":"Past","t":"20 min","h":2.76,"x":1.33},{"s":"MAD","p":"Past","t":"20 min","h":2.31,"x":0.95},{"s":"MAD","p":"Past","t":"20 min","h":1.69,"x":0.66},{"s":"MAD","p":"Past","t":"20 min","h":1.07,"x":0.23},{"s":"MAD","p":"Past","t":"20 min","h":0.8,"x":0.02},{"s":"MAD","p":"Past","t":"20 min","h":0,"x":0},
{"s":"MAD","p":"Past","t":"25 min","h":16,"x":0},{"s":"MAD","p":"Past","t":"25 min","h":8.6,"x":0},{"s":"MAD","p":"Past","t":"25 min","h":8.53,"x":0.02},{"s":"MAD","p":"Past","t":"25 min","h":8.18,"x":0.17},{"s":"MAD","p":"Past","t":"25 min","h":7.64,"x":0.34},{"s":"MAD","p":"Past","t":"25 min","h":6.93,"x":0.41},{"s":"MAD","p":"Past","t":"25 min","h":6.04,"x":0.43},{"s":"MAD","p":"Past","t":"25 min","h":5.16,"x":0.34},{"s":"MAD","p":"Past","t":"25 min","h":4.44,"x":0.28},{"s":"MAD","p":"Past","t":"25 min","h":3.64,"x":0.31},{"s":"MAD","p":"Past","t":"25 min","h":2.67,"x":0.46},{"s":"MAD","p":"Past","t":"25 min","h":2.13,"x":0.56},{"s":"MAD","p":"Past","t":"25 min","h":1.87,"x":0.52},{"s":"MAD","p":"Past","t":"25 min","h":1.33,"x":0.23},{"s":"MAD","p":"Past","t":"25 min","h":0.8,"x":0.02},{"s":"MAD","p":"Past","t":"25 min","h":0,"x":0},
{"s":"MAD","p":"Past","t":"30 min","h":16,"x":0},{"s":"MAD","p":"Past","t":"30 min","h":9.9,"x":0},{"s":"MAD","p":"Past","t":"30 min","h":9.87,"x":0.01},{"s":"MAD","p":"Past","t":"30 min","h":9.24,"x":0.11},{"s":"MAD","p":"Past","t":"30 min","h":8.71,"x":0.15},{"s":"MAD","p":"Past","t":"30 min","h":8.0,"x":0.11},{"s":"MAD","p":"Past","t":"30 min","h":6.93,"x":0.07},{"s":"MAD","p":"Past","t":"30 min","h":5.69,"x":0.08},{"s":"MAD","p":"Past","t":"30 min","h":4.62,"x":0.14},{"s":"MAD","p":"Past","t":"30 min","h":3.73,"x":0.23},{"s":"MAD","p":"Past","t":"30 min","h":3.02,"x":0.25},{"s":"MAD","p":"Past","t":"30 min","h":2.13,"x":0.25},{"s":"MAD","p":"Past","t":"30 min","h":1.51,"x":0.17},{"s":"MAD","p":"Past","t":"30 min","h":0.8,"x":0.02},{"s":"MAD","p":"Past","t":"30 min","h":0,"x":0},
{"s":"MAD","p":"Past","t":"35 min","h":16,"x":0},{"s":"MAD","p":"Past","t":"35 min","h":9.6,"x":0},{"s":"MAD","p":"Past","t":"35 min","h":7.82,"x":0.05},{"s":"MAD","p":"Past","t":"35 min","h":5.69,"x":0.07},{"s":"MAD","p":"Past","t":"35 min","h":3.91,"x":0.1},{"s":"MAD","p":"Past","t":"35 min","h":2.84,"x":0.11},{"s":"MAD","p":"Past","t":"35 min","h":1.6,"x":0.08},{"s":"MAD","p":"Past","t":"35 min","h":0.8,"x":0.01},{"s":"MAD","p":"Past","t":"35 min","h":0,"x":0},

{"s":"MAD","p":"Future","t":"10 min","h":16,"x":0,"label":"h(ii). MAD Future"},{"s":"MAD","p":"Future","t":"10 min","h":2.84,"x":0},{"s":"MAD","p":"Future","t":"10 min","h":2.31,"x":0.07},{"s":"MAD","p":"Future","t":"10 min","h":1.6,"x":0.22},{"s":"MAD","p":"Future","t":"10 min","h":1.16,"x":0.33},{"s":"MAD","p":"Future","t":"10 min","h":0.8,"x":0.19},{"s":"MAD","p":"Future","t":"10 min","h":0.44,"x":0},{"s":"MAD","p":"Future","t":"10 min","h":0,"x":0},
{"s":"MAD","p":"Future","t":"15 min","h":16,"x":0},{"s":"MAD","p":"Future","t":"15 min","h":3.38,"x":0},{"s":"MAD","p":"Future","t":"15 min","h":3.11,"x":0.19},{"s":"MAD","p":"Future","t":"15 min","h":2.93,"x":0.48},{"s":"MAD","p":"Future","t":"15 min","h":2.49,"x":0.92},{"s":"MAD","p":"Future","t":"15 min","h":2.13,"x":1.03},{"s":"MAD","p":"Future","t":"15 min","h":1.6,"x":0.94},{"s":"MAD","p":"Future","t":"15 min","h":1.07,"x":0.48},{"s":"MAD","p":"Future","t":"15 min","h":0.44,"x":0},{"s":"MAD","p":"Future","t":"15 min","h":0,"x":0},
{"s":"MAD","p":"Future","t":"20 min","h":16,"x":0},{"s":"MAD","p":"Future","t":"20 min","h":5.05,"x":0},{"s":"MAD","p":"Future","t":"20 min","h":4.98,"x":0.01},{"s":"MAD","p":"Future","t":"20 min","h":4.71,"x":0.19},{"s":"MAD","p":"Future","t":"20 min","h":3.91,"x":1.35},{"s":"MAD","p":"Future","t":"20 min","h":3.2,"x":2.37},{"s":"MAD","p":"Future","t":"20 min","h":3.11,"x":2.6},{"s":"MAD","p":"Future","t":"20 min","h":2.84,"x":2.4},{"s":"MAD","p":"Future","t":"20 min","h":2.49,"x":1.64},{"s":"MAD","p":"Future","t":"20 min","h":2.13,"x":1.21},{"s":"MAD","p":"Future","t":"20 min","h":1.78,"x":1.0},{"s":"MAD","p":"Future","t":"20 min","h":1.51,"x":0.94},{"s":"MAD","p":"Future","t":"20 min","h":1.07,"x":0.48},{"s":"MAD","p":"Future","t":"20 min","h":0.44,"x":0},{"s":"MAD","p":"Future","t":"20 min","h":0,"x":0},
{"s":"MAD","p":"Future","t":"25 min","h":16,"x":0},{"s":"MAD","p":"Future","t":"25 min","h":8.1,"x":0},{"s":"MAD","p":"Future","t":"25 min","h":8.0,"x":0.01},{"s":"MAD","p":"Future","t":"25 min","h":7.29,"x":0.16},{"s":"MAD","p":"Future","t":"25 min","h":6.84,"x":0.25},{"s":"MAD","p":"Future","t":"25 min","h":6.22,"x":0.22},{"s":"MAD","p":"Future","t":"25 min","h":5.69,"x":0.13},{"s":"MAD","p":"Future","t":"25 min","h":4.98,"x":0.15},{"s":"MAD","p":"Future","t":"25 min","h":3.91,"x":0.16},{"s":"MAD","p":"Future","t":"25 min","h":2.84,"x":0.22},{"s":"MAD","p":"Future","t":"25 min","h":2.22,"x":0.39},{"s":"MAD","p":"Future","t":"25 min","h":1.87,"x":0.52},{"s":"MAD","p":"Future","t":"25 min","h":1.42,"x":0.48},{"s":"MAD","p":"Future","t":"25 min","h":1.07,"x":0.33},{"s":"MAD","p":"Future","t":"25 min","h":0.44,"x":0},{"s":"MAD","p":"Future","t":"25 min","h":0,"x":0},
{"s":"MAD","p":"Future","t":"30 min","h":16,"x":0},{"s":"MAD","p":"Future","t":"30 min","h":10.58,"x":0},{"s":"MAD","p":"Future","t":"30 min","h":10.13,"x":0.1},{"s":"MAD","p":"Future","t":"30 min","h":9.24,"x":0.23},{"s":"MAD","p":"Future","t":"30 min","h":8.71,"x":0.26},{"s":"MAD","p":"Future","t":"30 min","h":7.82,"x":0.19},{"s":"MAD","p":"Future","t":"30 min","h":7.11,"x":0.07},{"s":"MAD","p":"Future","t":"30 min","h":5.69,"x":0.03},{"s":"MAD","p":"Future","t":"30 min","h":4.8,"x":0.04},{"s":"MAD","p":"Future","t":"30 min","h":3.91,"x":0.13},{"s":"MAD","p":"Future","t":"30 min","h":3.2,"x":0.28},{"s":"MAD","p":"Future","t":"30 min","h":2.67,"x":0.31},{"s":"MAD","p":"Future","t":"30 min","h":1.96,"x":0.25},{"s":"MAD","p":"Future","t":"30 min","h":1.07,"x":0.13},{"s":"MAD","p":"Future","t":"30 min","h":0.44,"x":0},{"s":"MAD","p":"Future","t":"30 min","h":0,"x":0},
{"s":"MAD","p":"Future","t":"35 min","h":16,"x":0},{"s":"MAD","p":"Future","t":"35 min","h":10.3,"x":0},{"s":"MAD","p":"Future","t":"35 min","h":8.89,"x":0.03},{"s":"MAD","p":"Future","t":"35 min","h":6.58,"x":0.04},{"s":"MAD","p":"Future","t":"35 min","h":4.98,"x":0.04},{"s":"MAD","p":"Future","t":"35 min","h":3.91,"x":0.1},{"s":"MAD","p":"Future","t":"35 min","h":2.49,"x":0.1},{"s":"MAD","p":"Future","t":"35 min","h":1.24,"x":0.07},{"s":"MAD","p":"Future","t":"35 min","h":0.44,"x":0},{"s":"MAD","p":"Future","t":"35 min","h":0,"x":0}
]},
"facet": {
  "row": {"field": "s", "type": "nominal", "sort": ["OWE", "CHA", "BIR", "MAD"], "header": {"labels": false, "title": "Height (km)", "titleOrient": "left", "titleFont": "Liberation Sans", "titleFontSize": 30, "titleFontWeight": "normal", "titleColor": "black", "titlePadding": 27}},
  "column": {"field": "p", "type": "nominal", "sort": ["Past", "Future"], "header": {"labels": false, "title": "Cloud water mixing ratio (g m\u207b\u00b3)", "titleOrient": "bottom", "titleFont": "Liberation Sans", "titleFontSize": 30, "titleFontWeight": "normal", "titleColor": "black", "titlePadding": 13}}
},
"spacing": {"row": 25, "column": 69},
"resolve": {"axis": {"x": "independent", "y": "independent"}},
"spec": {
  "width": 344,
  "height": 302,
  "resolve": {"axis": {"x": "independent", "y": "independent"}},
  "layer": [
    {
      "mark": {"type": "line", "strokeWidth": 2.5},
      "encoding": {
        "x": {"field": "x", "type": "quantitative", "scale": {"domain": [0, 3], "nice": false, "zero": false},
          "axis": {"orient": "bottom", "values": [0,0.1,0.2,0.3,0.4,0.5,0.6,0.7,0.8,0.9,1,1.1,1.2,1.3,1.4,1.5,1.6,1.7,1.8,1.9,2,2.1,2.2,2.3,2.4,2.5,2.6,2.7,2.8,2.9,3],
            "labelExpr": "abs(datum.value*2 - round(datum.value*2)) < 0.001 ? format(datum.value, '.1f') : ''",
            "tickSize": {"condition": {"test": "abs(datum.value*2 - round(datum.value*2)) < 0.001", "value": -6}, "value": -3},
            "labelPadding": 11}},
        "y": {"field": "h", "type": "quantitative", "scale": {"domain": [0, 16], "nice": false, "zero": false},
          "axis": {"orient": "left", "values": [0,0.5,1,1.5,2,2.5,3,3.5,4,4.5,5,5.5,6,6.5,7,7.5,8,8.5,9,9.5,10,10.5,11,11.5,12,12.5,13,13.5,14,14.5,15,15.5,16],
            "labelExpr": "abs(datum.value/2 - round(datum.value/2)) < 0.001 ? format(datum.value, 'd') : ''",
            "tickSize": {"condition": {"test": "abs(datum.value/2 - round(datum.value/2)) < 0.001", "value": -6}, "value": -3},
            "labelPadding": 12}},
        "order": {"field": "h", "type": "quantitative"},
        "color": {"field": "t", "type": "nominal", "title": null,
          "scale": {"domain": ["10 min", "15 min", "20 min", "25 min", "30 min", "35 min"], "range": ["#4B0082", "#0000FF", "#008080", "#FF0000", "#FFA500", "#008000"]},
          "legend": {"orient": "none", "legendX": 656, "legendY": 7, "title": null}},
        "strokeDash": {"field": "t", "type": "nominal", "title": null,
          "scale": {"domain": ["10 min", "15 min", "20 min", "25 min", "30 min", "35 min"], "range": [[1, 0], [9, 4.5], [13, 4, 3, 4], [3, 3.5], [1, 0], [1, 0]]},
          "legend": {"orient": "none", "legendX": 656, "legendY": 7, "title": null}}
      }
    },
    {
      "transform": [{"filter": "isValid(datum.label)"}],
      "mark": {"type": "text", "align": "left", "baseline": "middle", "font": "Liberation Sans", "fontSize": 22, "color": "black"},
      "encoding": {
        "x": {"datum": 0.155, "type": "quantitative", "scale": {"domain": [0, 3], "nice": false, "zero": false},
          "axis": {"orient": "top", "labels": false, "values": [0,0.1,0.2,0.3,0.4,0.5,0.6,0.7,0.8,0.9,1,1.1,1.2,1.3,1.4,1.5,1.6,1.7,1.8,1.9,2,2.1,2.2,2.3,2.4,2.5,2.6,2.7,2.8,2.9,3],
            "tickSize": {"condition": {"test": "abs(datum.value*2 - round(datum.value*2)) < 0.001", "value": -6}, "value": -3}}},
        "y": {"datum": 14.52, "type": "quantitative", "scale": {"domain": [0, 16], "nice": false, "zero": false},
          "axis": {"orient": "right", "labels": false, "values": [0,0.5,1,1.5,2,2.5,3,3.5,4,4.5,5,5.5,6,6.5,7,7.5,8,8.5,9,9.5,10,10.5,11,11.5,12,12.5,13,13.5,14,14.5,15,15.5,16],
            "tickSize": {"condition": {"test": "abs(datum.value/2 - round(datum.value/2)) < 0.001", "value": -6}, "value": -3}}},
        "text": {"field": "label"}
      }
    }
  ]
}
}
